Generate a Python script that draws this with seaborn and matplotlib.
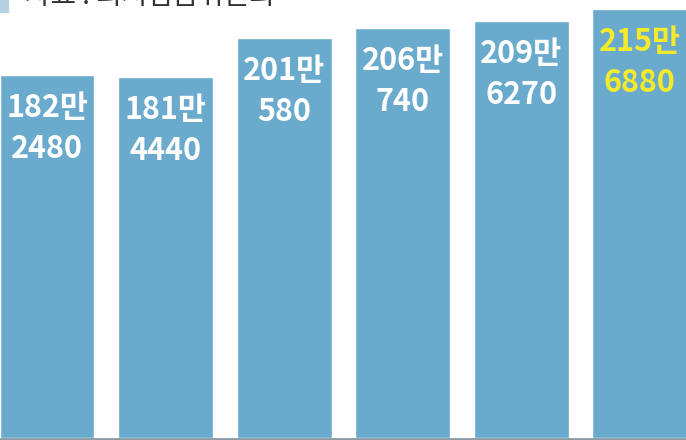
import matplotlib
matplotlib.use("Agg")
import matplotlib.pyplot as plt
import matplotlib.patches as mpatches
import seaborn as sns
import pandas as pd

# 데이터 (최저임금 월 환산액, 원)
years = ["2021", "2022", "2023", "2024", "2025", "2026"]
man_part = [182, 181, 201, 206, 209, 215]
won_part = [2480, 4440, 580, 740, 6270, 6880]
source_text = "자료 : 최저임금위원회"

wages = [m * 10000 + w for m, w in zip(man_part, won_part)]
df = pd.DataFrame({"year": years, "wage": wages})

sns.set_theme(style="white")
plt.rcParams["font.family"] = ["Noto Sans CJK KR", "DejaVu Sans"]

bar_color = "#6aaacd"
fig = plt.figure(figsize=(6.86, 4.4), dpi=100)
ax = fig.add_axes([0, 2 / 440, 1, 438 / 440])

sns.barplot(data=df, x="year", y="wage", color=bar_color, saturation=1,
            width=0.8, ax=ax)

ax.set_xlim(-0.397, 5.39)
ax.set_ylim(0, 2201000)
ax.axis("off")

for i, (m, w, v) in enumerate(zip(man_part, won_part, wages)):
    col = "#f4ea2c" if i == len(years) - 1 else "white"
    ax.annotate(f"{m}만\n{w}", xy=(i, v), xytext=(0, -17),
                textcoords="offset pixels", ha="center", va="top",
                fontsize=22, fontweight="bold", color=col, linespacing=1.35)

# 바닥선
fig.add_artist(plt.Line2D([0, 1], [1 / 440, 1 / 440], color="#8c9aa2", lw=2))

# 출처 (상단 잘린 부분)
fig.add_artist(mpatches.Rectangle((0, 1 - 12 / 440), 8 / 686, 12 / 440,
                                  color="#b5cfe3", transform=fig.transFigure))
fig.text(25 / 686, 1 + 4 / 440, source_text, fontsize=20, color="#333333",
         ha="left", va="center")

fig.savefig("out.png", dpi=100)
